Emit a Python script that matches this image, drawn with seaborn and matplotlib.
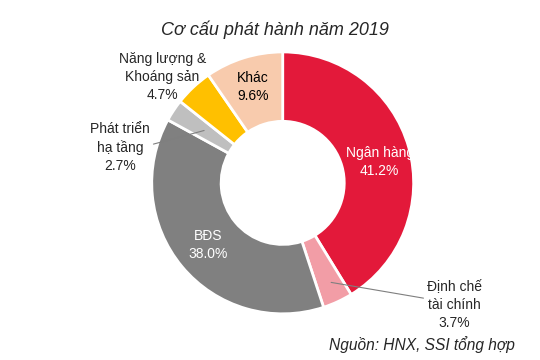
import numpy as np
import seaborn as sns
import matplotlib.pyplot as plt

# du lieu co cau phat hanh 2019
nhom = ['Ngân hàng', 'Định chế\ntài chính', 'BĐS', 'Phát triển\nhạ tầng',
        'Năng lượng &\nKhoáng sản', 'Khác']
ty_le = [41.2, 3.7, 38.0, 2.7, 4.7, 9.6]
mau = ['#E3193A', '#F29DA6', '#808080', '#BFBFBF', '#FFC000', '#F8CBAD']

sns.set_theme(style='white')
plt.rcParams['font.family'] = ['Liberation Sans', 'DejaVu Sans']

fig = plt.figure(figsize=(5.4, 3.6), dpi=100)
ax = fig.add_axes([0.281, 0.128, 0.485, 0.728])

wedges, _ = ax.pie(ty_le, colors=mau, startangle=90, counterclock=False,
                   radius=1, wedgeprops=dict(width=0.53, edgecolor='white', linewidth=2))
ax.set_xlim(-1, 1)
ax.set_ylim(-1, 1)
ax.set_aspect('equal')
ax.axis('off')

fs = 10
ls = 1.35

def mid(w):
    a = np.deg2rad((w.theta1 + w.theta2) / 2)
    return np.cos(a), np.sin(a)

# nhan ben trong
for i, r, c in [(0, 0.77, 'white'), (2, 0.74, 'white'), (5, 0.77, 'black')]:
    cx, cy = mid(wedges[i])
    ax.text(cx * r, cy * r - (0.05 if i == 0 else 0), f'{nhom[i]}\n{ty_le[i]:.1f}%',
            ha='center', va='center', color=c, fontsize=fs, linespacing=ls)

# nhan ben ngoai
ax.text(-0.92, 0.81, f'{nhom[4]}\n{ty_le[4]:.1f}%', ha='center', va='center',
        fontsize=fs, linespacing=ls)
ax.annotate(f'{nhom[3]}\n{ty_le[3]:.1f}%', xy=(-0.6, 0.40), xytext=(-1.24, 0.27),
            ha='center', va='center', fontsize=fs, linespacing=ls,
            arrowprops=dict(arrowstyle='-', color='#7f7f7f', lw=0.8,
                            relpos=(1, 0.55), shrinkA=0, shrinkB=0),
            annotation_clip=False)
ax.annotate(f'{nhom[1]}\n{ty_le[1]:.1f}%', xy=(0.37, -0.76), xytext=(1.31, -0.93),
            ha='center', va='center', fontsize=fs, linespacing=ls,
            arrowprops=dict(arrowstyle='-', color='#7f7f7f', lw=0.8,
                            relpos=(0, 0.62), shrinkA=0, shrinkB=0),
            annotation_clip=False)

fig.text(0.51, 0.917, 'Cơ cấu phát hành năm 2019', ha='center', va='center',
         fontsize=13, style='italic')
fig.text(0.954, 0.042, 'Nguồn: HNX, SSI tổng hợp', ha='right', va='center',
         fontsize=11.2, style='italic')

fig.savefig('out.png', dpi=100)
